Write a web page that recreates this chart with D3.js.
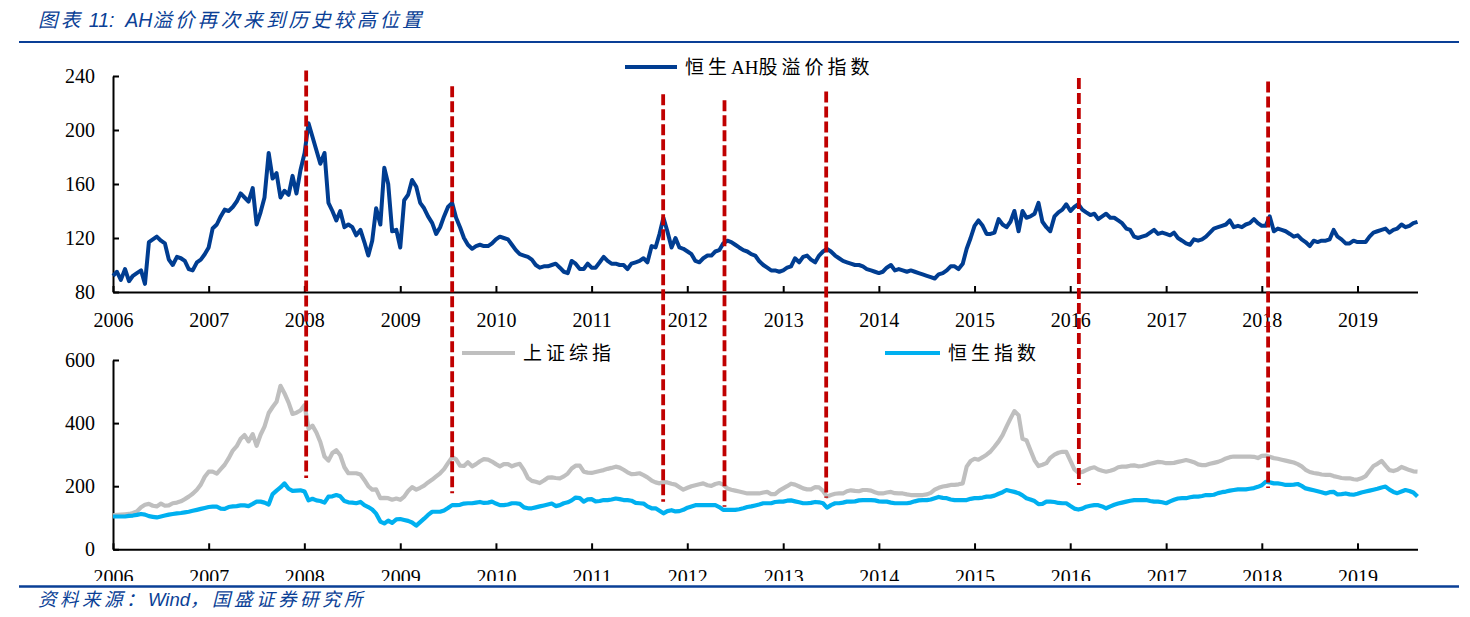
<!DOCTYPE html>
<html><head><meta charset="utf-8">
<script src="https://cdn.jsdelivr.net/npm/d3@7"></script>
<style>body{margin:0;background:#fff} svg{display:block} text{white-space:pre}</style>
</head><body>
<svg id="c" width="1470" height="617"></svg>
<script>
const titleParts = [["图表", 1], [" 11:  AH", 0], ["溢价再次来到历史较高位置", 1]];
const sourceParts = [["资料来源：", 1], ["Wind", 0], ["，国盛证券研究所", 1]];
const seriesNames = [[["恒生", 1], ["AH", 0], ["股溢价指数", 1]], [["上证综指", 1]], [["恒生指数", 1]]];
const startDate = "2006-01-01";
// half-monthly readings
const ahValues = [
92,95,89,97,88,92,94,96,86,117, 119,121,118,116,104,100,106,105,103,97,
96,102,104,108,113,127,130,136,141,140, 143,147,153,150,147,157,130,139,150,183,
164,168,150,155,152,166,153,170,183,205, 195,185,175,183,146,140,133,140,128,130,
128,122,126,117,107,118,142,130,172,160, 125,126,113,148,152,163,158,146,142,136,
131,123,128,136,143,146,135,128,120,115, 112,114,115,114,114,116,119,121,120,119,
115,111,108,107,106,104,100,98,99,99, 100,101,98,95,94,103,101,97,97,101,
98,98,102,106,103,101,101,100,100,97, 101,102,103,105,102,114,113,123,135,125,
113,120,113,112,110,108,103,102,105,107, 107,110,111,116,118,117,115,113,111,110,
108,107,103,100,98,96,96,95,96,98, 99,105,102,106,107,104,102,107,110,112,
110,107,105,103,102,101,100,100,99,97, 96,95,94,95,98,100,96,97,96,95,
96,95,94,93,92,91,90,93,94,96, 99,99,97,101,112,120,129,133,129,123,
123,124,134,130,128,132,140,125,140,135, 136,138,146,132,128,125,136,139,141,145,
140,143,145,141,139,137,138,134,136,138, 135,135,133,131,127,126,121,120,121,122,
124,126,123,124,123,122,124,120,118,116, 115,119,118,119,121,124,127,128,129,130,
133,128,129,128,130,131,134,131,129,129, 136,125,127,126,125,123,121,122,119,117,
114,118,117,118,118,119,126,121,119,116, 116,118,117,117,117,121,124,125,126,127,
124,126,127,130,128,129,131,132
];
const shValues = [
108,109,110,111,112,115,120,133,141,144, 138,136,145,138,139,146,148,152,159,167,
176,189,205,230,246,246,240,254,268,288, 313,327,350,362,342,365,328,363,389,432,
451,468,518,495,465,429,433,440,457,382, 392,370,340,294,281,305,314,298,260,241,
241,241,237,220,200,189,190,162,163,162, 157,161,157,167,185,197,189,195,202,212,
221,231,241,254,273,292,285,265,264,276, 263,270,279,286,284,278,270,263,270,270,
263,268,271,251,226,217,214,210,218,227, 228,226,225,231,240,256,265,265,246,243,
242,245,248,251,255,258,262,259,252,244, 238,239,241,235,228,218,212,209,213,212,
208,205,197,189,195,200,203,206,209,203, 201,207,210,205,193,189,186,183,180,177,
177,177,177,180,182,175,175,186,193,200, 208,205,199,193,190,190,197,196,185,167,
172,176,177,177,184,187,185,184,188,188, 186,181,177,177,180,182,178,177,177,174,
172,172,172,172,174,179,189,195,199,201, 204,204,206,209,262,280,287,284,292,300,
310,325,342,362,389,414,438,425,350,346, 315,282,264,268,273,290,300,306,309,309,
280,253,243,245,251,257,260,253,249,246, 249,253,260,262,262,265,266,263,264,267,
271,274,277,276,273,273,274,277,280,283, 280,276,269,267,267,271,274,277,282,288,
292,294,294,294,294,294,293,289,296,297, 293,289,287,284,281,278,275,270,263,252,
245,242,240,237,236,236,232,229,226,225, 225,222,221,225,232,248,264,271,280,265,
251,248,252,261,256,251,247,246
];
const hsValues = [
104,104,104,104,106,107,109,112,110,105, 103,101,104,107,110,112,114,115,117,119,
122,125,128,131,134,135,135,129,128,134, 136,137,139,139,137,144,151,151,148,142,
175,186,196,209,192,185,186,187,183,155, 160,155,153,148,167,168,172,168,153,149,
148,146,150,140,134,126,113,88,82,91, 84,95,96,93,90,85,75,86,97,109,
119,119,119,123,131,140,140,141,145,146, 146,148,150,147,148,151,145,140,140,142,
146,146,144,133,130,130,133,136,139,142, 145,137,140,146,149,155,164,162,151,158,
159,152,153,156,156,158,161,159,156,156, 154,147,146,145,136,130,130,122,114,121,
124,120,121,125,132,136,140,140,140,140, 140,140,134,125,125,125,125,127,130,134,
136,139,142,146,146,146,150,151,151,154, 155,152,149,146,146,147,150,149,146,132,
140,146,146,148,151,151,152,155,156,156, 156,155,152,151,151,148,146,146,146,146,
148,152,155,156,156,158,162,166,163,162, 158,156,156,156,156,160,162,162,164,167,
167,170,176,181,188,185,182,178,171,162, 158,153,143,144,151,151,150,147,146,146,
137,129,126,129,135,138,140,140,136,130, 136,141,145,148,151,154,156,156,156,156,
153,151,151,149,146,152,157,161,162,162, 165,167,167,169,172,172,173,178,181,183,
186,188,190,190,190,192,194,198,203,214, 212,209,209,207,204,204,205,207,201,193,
190,187,184,181,177,181,182,174,175,177, 174,173,176,180,183,186,189,192,196,199,
189,182,178,183,188,185,180,167
];
const markerDates = ["2008-01-08","2009-07-18","2011-10-01","2012-05-22","2013-06-14","2016-02-03","2018-01-25"];
const markerTopValues = [244, 232.5, 226.5, 222, 228.5, 238.5, 236];   // AH units
const markerBottomValues = [226, 178, 151, 135, 163, 204, 194];       // index units
const topTicks = [80, 120, 160, 200, 240];
const bottomTicks = [0, 200, 400, 600];
const yearTicks = [2006,2007,2008,2009,2010,2011,2012,2013,2014,2015,2016,2017,2018,2019];

const C_AH = "#003d91", C_SH = "#bfbfbf", C_HS = "#00b0f0", C_RED = "#c00000", C_BRAND = "#0a3f96";
const numFont = "'Liberation Serif','Times New Roman',serif";
const cjkFont = "'Liberation Serif','Noto Sans CJK SC',serif";
const sansFont = "'Liberation Sans','Noto Sans CJK SC',sans-serif";

const svg = d3.select("#c");
const parse = d3.utcParse("%Y-%m-%d");
const t0 = parse(startDate);
const dates = ahValues.map((_, i) => d3.utcDay.offset(t0, Math.round(i * 365.25 / 24)));

const x = d3.scaleUtc().domain([t0, dates[dates.length - 1]]).range([113, 1417.5]);
const yTop = d3.scaleLinear().domain([80, 240]).range([292, 76]);
const yBot = d3.scaleLinear().domain([0, 600]).range([549.3, 360]);

function richText(sel, parts, spacing) {
  sel.selectAll("tspan").data(parts).join("tspan")
    .attr("letter-spacing", d => d[1] ? spacing : 0).text(d => d[0]);
}

// title
svg.append("text").attr("x", 38).attr("y", 20).attr("dominant-baseline", "central")
  .attr("font-family", sansFont).attr("font-style", "italic")
  .attr("font-size", 19.5).attr("fill", C_BRAND).call(richText, titleParts, 3.2);
svg.append("line").attr("x1", 19).attr("x2", 1459).attr("y1", 42).attr("y2", 42)
  .attr("stroke", C_BRAND).attr("stroke-width", 2.2);

function styleAxis(g) {
  g.select(".domain").attr("stroke", "#000").attr("stroke-width", 2);
  g.selectAll(".tick line").attr("stroke", "#000").attr("stroke-width", 2);
  g.selectAll(".tick text").attr("font-family", numFont).attr("font-size", 20).attr("fill", "#000");
}
const yearDates = yearTicks.map(y => new Date(Date.UTC(y, 0, 1)));

// top chart axes
svg.append("g").attr("transform", "translate(113,0)")
  .call(d3.axisLeft(yTop).tickValues(topTicks).tickSizeInner(-6).tickSizeOuter(0).tickPadding(18))
  .call(styleAxis);
svg.append("g").attr("transform", "translate(0,292)")
  .call(d3.axisBottom(x).tickValues(yearDates).tickFormat(d3.utcFormat("%Y")).tickSizeInner(-6).tickSizeOuter(0).tickPadding(21))
  .call(styleAxis);

// bottom chart axes
svg.append("g").attr("transform", "translate(113,0)")
  .call(d3.axisLeft(yBot).tickValues(bottomTicks).tickSizeInner(-6).tickSizeOuter(0).tickPadding(18))
  .call(styleAxis);
svg.append("g").attr("transform", "translate(0,549.3)")
  .call(d3.axisBottom(x).tickValues(yearDates).tickFormat(d3.utcFormat("%Y")).tickSizeInner(-6).tickSizeOuter(0).tickPadding(21))
  .call(styleAxis);

// series
const lineTop = d3.line().x((d, i) => x(dates[i])).y(d => yTop(d));
const lineBot = d3.line().x((d, i) => x(dates[i])).y(d => yBot(d));
svg.append("path").datum(shValues).attr("d", lineBot).attr("fill", "none")
  .attr("stroke", C_SH).attr("stroke-width", 4.2).attr("stroke-linejoin", "round");
svg.append("path").datum(hsValues).attr("d", lineBot).attr("fill", "none")
  .attr("stroke", C_HS).attr("stroke-width", 4.2).attr("stroke-linejoin", "round");
svg.append("path").datum(ahValues).attr("d", lineTop).attr("fill", "none")
  .attr("stroke", C_AH).attr("stroke-width", 4).attr("stroke-linejoin", "round");

// marker dashed lines
markerDates.forEach((d, i) => {
  const xx = x(parse(d));
  svg.append("line").attr("x1", xx).attr("x2", xx)
    .attr("y1", yTop(markerTopValues[i])).attr("y2", yBot(markerBottomValues[i]))
    .attr("stroke", C_RED).attr("stroke-width", 3.8).attr("stroke-dasharray", "11,4");
});

// legends
function legend(x1, x2, y, color, parts) {
  svg.append("line").attr("x1", x1).attr("x2", x2).attr("y1", y).attr("y2", y)
    .attr("stroke", color).attr("stroke-width", 4);
  svg.append("text").attr("x", x2 + 8).attr("y", y).attr("dominant-baseline", "central")
    .attr("font-family", cjkFont).attr("font-size", 19).attr("fill", "#000")
    .call(richText, parts, 4);
}
legend(625, 677, 67, C_AH, seriesNames[0]);
legend(462, 515, 353, C_SH, seriesNames[1]);
legend(885, 940, 353, C_HS, seriesNames[2]);

// footer
svg.append("rect").attr("x", 0).attr("y", 581).attr("width", 1470).attr("height", 36).attr("fill", "#fff");
svg.append("line").attr("x1", 19).attr("x2", 1459).attr("y1", 586.5).attr("y2", 586.5)
  .attr("stroke", C_BRAND).attr("stroke-width", 2.6);
svg.append("text").attr("x", 38).attr("y", 599).attr("dominant-baseline", "central")
  .attr("font-family", sansFont).attr("font-style", "italic")
  .attr("font-size", 18.5).attr("fill", C_BRAND).call(richText, sourceParts, 3.5);
</script>
</body></html>
